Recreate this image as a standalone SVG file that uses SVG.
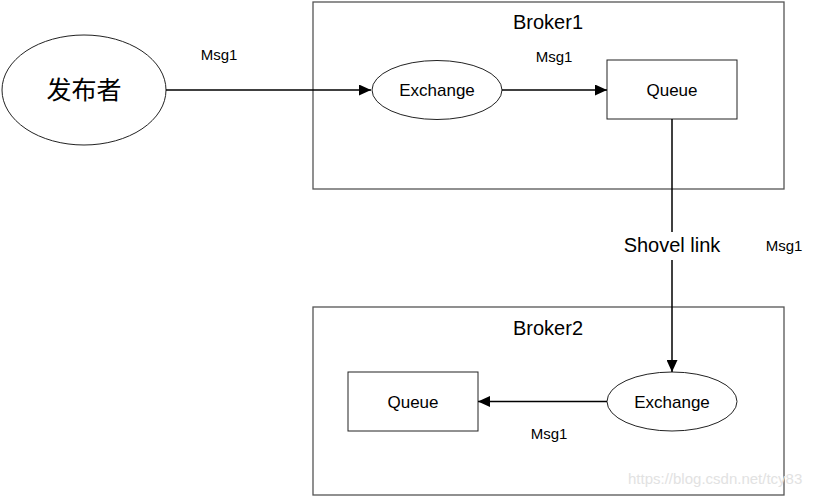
<svg xmlns="http://www.w3.org/2000/svg" width="820" height="497" viewBox="0 0 820 497">
<defs>
<marker id="arr" markerWidth="13" markerHeight="11" refX="12" refY="5.5" orient="auto" markerUnits="userSpaceOnUse">
<path d="M0,0 L12,5.5 L0,11 Z" fill="#000"/>
</marker>
<style>
.t{font-family:"Liberation Sans",Arial,sans-serif;fill:#000;text-anchor:middle}
.node{fill:#fff;stroke:#222;stroke-width:1}
.broker{fill:#fff;stroke:#555;stroke-width:1.3}
.edge{stroke:#000;stroke-width:1.5;fill:none}
.lbl{font-size:15px}
.nl{font-size:17px}
.big{font-size:20px}
</style>
</defs>
<rect width="820" height="497" fill="#fff"/>
<g id="broker1"><rect class="broker" x="313" y="2" width="471" height="187"/><text class="t big" x="548" y="29">Broker1</text></g>
<g id="broker2"><rect class="broker" x="313" y="307" width="471" height="188"/><text class="t big" x="548" y="335">Broker2</text></g>
<g id="publisher"><ellipse class="node" cx="84" cy="90" rx="82" ry="55"/><text class="t" x="84" y="99" font-size="25" style="font-family:'Liberation Sans','Noto Sans CJK SC',sans-serif">发布者</text></g>
<g id="exchange1"><ellipse class="node" cx="437" cy="90" rx="65" ry="29.5"/><text class="t nl" x="437" y="96">Exchange</text></g>
<g id="queue1"><rect class="node" x="607" y="60" width="130" height="59"/><text class="t nl" x="672" y="96">Queue</text></g>
<g id="exchange2"><ellipse class="node" cx="672" cy="401.5" rx="65" ry="29.5"/><text class="t nl" x="672" y="408">Exchange</text></g>
<g id="queue2"><rect class="node" x="348" y="372" width="130" height="59"/><text class="t nl" x="413" y="408">Queue</text></g>
<g id="connectors">
<line class="edge" x1="166" y1="90" x2="371" y2="90" marker-end="url(#arr)"/>
<line class="edge" x1="502" y1="90" x2="607" y2="90" marker-end="url(#arr)"/>
<line class="edge" x1="672" y1="119" x2="672" y2="232"/>
<line class="edge" x1="672" y1="260" x2="672" y2="372" marker-end="url(#arr)"/>
<line class="edge" x1="607" y1="401.5" x2="478" y2="401.5" marker-end="url(#arr)"/>
<text class="t lbl" x="219" y="60">Msg1</text>
<text class="t lbl" x="554" y="62">Msg1</text>
<text class="t big" x="672" y="252">Shovel link</text>
<text class="t lbl" x="784" y="251">Msg1</text>
<text class="t lbl" x="549" y="439">Msg1</text>
</g>
<text x="628" y="484" font-family="'Liberation Sans',Arial,sans-serif" font-size="15" fill="#e2e2e2">https://blog.csdn.net/tcy83</text>
</svg>
